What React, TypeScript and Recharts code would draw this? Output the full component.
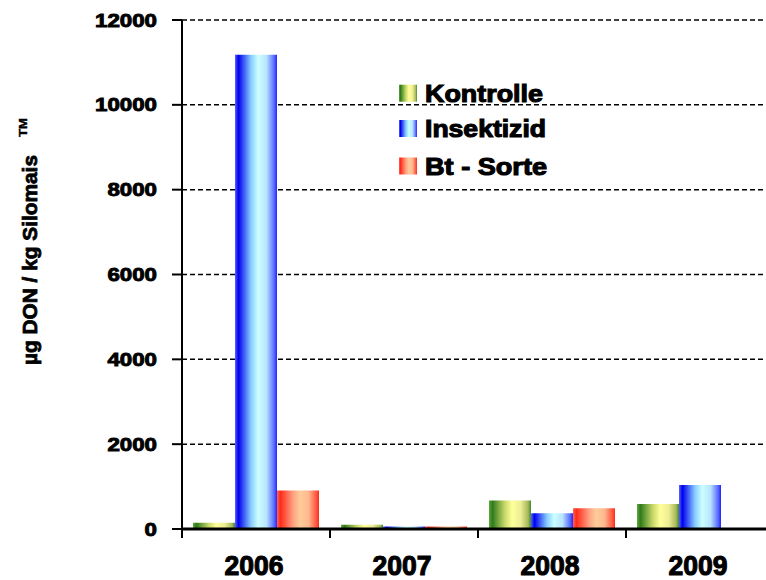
import React from "react";
import { BarChart, Bar, XAxis, YAxis, CartesianGrid } from "recharts";

const years = ["2006", "2007", "2008", "2009"];
const kontrolle = [150, 100, 670, 590];
const insektizid = [11180, 60, 370, 1040];
const btSorte = [910, 60, 490, 0];
const yTicks = [0, 2000, 4000, 6000, 8000, 10000, 12000];

const seriesNames = ["Kontrolle", "Insektizid", "Bt - Sorte"];

const data = years.map((year, i) => ({
  year,
  Kontrolle: kontrolle[i],
  Insektizid: insektizid[i],
  "Bt - Sorte": btSorte[i],
}));

const CHART_W = 800;
const CHART_H = 580;
const YAXIS_W = 182;
const RIGHT = 26;
const HALF_BAND = (CHART_W - YAXIS_W - RIGHT) / years.length / 2;

const FONT = "'Liberation Sans', Arial, sans-serif";
// the original lettering is very heavy, a thin outline fattens the bold face
const HEAVY = { fontFamily: FONT, fontWeight: "bold", fill: "#000", stroke: "#000", strokeWidth: 0.9 } as const;

// horizontal "cylinder" shading like the old office charts
const gradients = [
  { id: "gK", stops: ["#5fa83e", "#2f7a1a", "#c9d96a", "#ffff99", "#eeee96", "#a8b85a", "#3d8a2a"] },
  { id: "gI", stops: ["#5566ff", "#0000ee", "#88ccff", "#ccffff", "#b8e4ff", "#5a6cff", "#2222ff"] },
  { id: "gB", stops: ["#ff6650", "#ff2a1a", "#ffa080", "#ffcc99", "#ffb890", "#ff5a40", "#ff2a1a"] },
];
const offsets = ["0%", "8%", "38%", "55%", "75%", "93%", "100%"];

function Gradients({ prefix }: { prefix: string }) {
  return (
    <defs>
      {gradients.map((g) => (
        <linearGradient key={g.id} id={prefix + g.id} x1="0" y1="0" x2="1" y2="0">
          {g.stops.map((c, i) => (
            <stop key={i} offset={offsets[i]} stopColor={c} />
          ))}
        </linearGradient>
      ))}
    </defs>
  );
}

function YTick(props: any) {
  const { x, y, payload } = props;
  const s = String(payload.value);
  return (
    <text x={x} y={y + 6.5} textAnchor="end" {...HEAVY} fontSize={18}
      textLength={s.length * 12.4} lengthAdjust="spacingAndGlyphs">
      {s}
    </text>
  );
}

function XTick(props: any) {
  const { x, y, payload } = props;
  const bx = x - HALF_BAND;
  return (
    <g>
      <line x1={bx} y1={y - 9} x2={bx} y2={y} stroke="#000" strokeWidth={2} />
      <text x={x - 2} y={y + 37} textAnchor="middle" {...HEAVY} strokeWidth={1.1} fontSize={28}
        textLength={59} lengthAdjust="spacingAndGlyphs">
        {payload.value}
      </text>
    </g>
  );
}

function YTitle() {
  return (
    <g>
      <text transform="rotate(-90)" x={-365} y={37} {...HEAVY} strokeWidth={0.8} fontSize={21}
        textLength={210} lengthAdjust="spacingAndGlyphs">
        µg DON / kg Silomais
      </text>
      <text transform="rotate(-90)" x={-137} y={27} {...HEAVY} strokeWidth={0.4} fontSize={10}
        textLength={19} lengthAdjust="spacingAndGlyphs">
        TM
      </text>
    </g>
  );
}

function LegendBox() {
  const baselines = [101.7, 137, 174.5];
  const widths = [118, 121, 122];
  return (
    <svg width={766} height={200} style={{ position: "absolute", left: 0, top: 0, pointerEvents: "none" }}>
      <Gradients prefix="lg" />
      {seriesNames.map((name, i) => (
        <g key={name}>
          <rect x={399} y={baselines[i] - 17} width={18} height={17} fill={`url(#lg${gradients[i].id})`} />
          <text x={425} y={baselines[i]} {...HEAVY} strokeWidth={1.1} fontSize={24.5}
            textLength={widths[i]} lengthAdjust="spacingAndGlyphs">
            {name}
          </text>
        </g>
      ))}
    </svg>
  );
}

export default function App() {
  return (
    <div style={{ position: "fixed", left: 0, top: 0, width: 766, height: 580, overflow: "hidden", background: "#fff" }}>
      <BarChart width={CHART_W} height={CHART_H} data={data}
        margin={{ top: 20, right: RIGHT, left: 0, bottom: 0 }} barGap={0} barCategoryGap={11}>
        <Gradients prefix="" />
        <CartesianGrid vertical={false} stroke="#000" strokeWidth={1.5} strokeDasharray="5 3" />
        <XAxis dataKey="year" height={51} interval={0} axisLine={{ stroke: "#000", strokeWidth: 3 }}
          tickLine={false} tickSize={9} tickMargin={0} tick={<XTick />} />
        <YAxis width={YAXIS_W} domain={[0, 12000]} ticks={yTicks} interval={0}
          axisLine={{ stroke: "#000", strokeWidth: 2 }} tickLine={{ stroke: "#000", strokeWidth: 2 }}
          tickSize={10} tickMargin={15} tick={<YTick />} label={{ content: () => <YTitle /> }} />
        <Bar dataKey="Kontrolle" fill="url(#gK)" isAnimationActive={false} />
        <Bar dataKey="Insektizid" fill="url(#gI)" isAnimationActive={false} />
        <Bar dataKey="Bt - Sorte" fill="url(#gB)" isAnimationActive={false} />
      </BarChart>
      <LegendBox />
    </div>
  );
}
